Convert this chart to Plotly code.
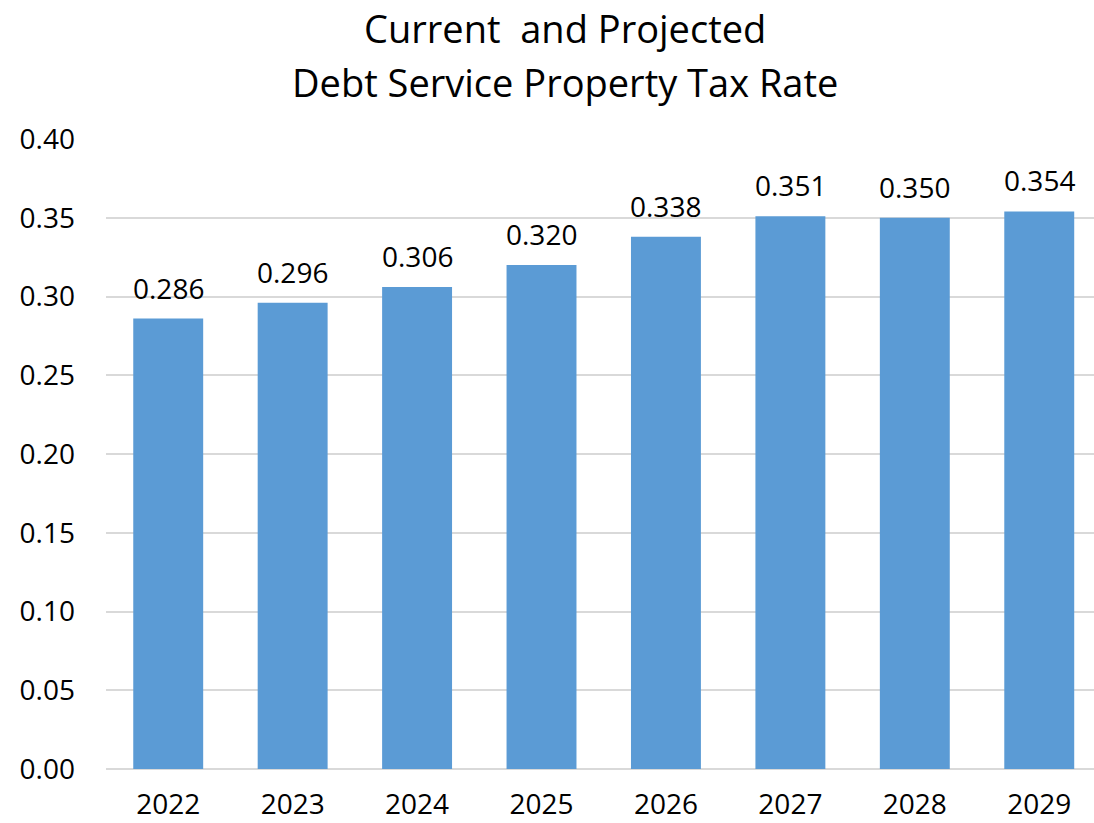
import plotly.graph_objects as go

years = ["2022", "2023", "2024", "2025", "2026", "2027", "2028", "2029"]
rates = [0.286, 0.296, 0.306, 0.320, 0.338, 0.351, 0.350, 0.354]
labels = [f"{v:.3f}" for v in rates]
y_ticks = [0.00, 0.05, 0.10, 0.15, 0.20, 0.25, 0.30, 0.35, 0.40]
title_lines = ["Current  and Projected", "Debt Service Property Tax Rate"]

FONT = "Open Sans"
W, H = 1094, 823
ML, MR, MT, MB = 106, 0, 139, 54
PW, PH = W - ML - MR, H - MT - MB

fig = go.Figure(
    go.Bar(
        x=years,
        y=rates,
        marker=dict(color="#5B9BD5", line=dict(width=0)),
        cliponaxis=False,
    )
)

for i, (yv, lab) in enumerate(zip(rates, labels)):
    fig.add_annotation(
        x=i, y=yv, text=lab, showarrow=False,
        xref="x", yref="y", yanchor="bottom", yshift=10,
        font=dict(family=FONT, size=28, color="black"),
    )

for i, line in enumerate(title_lines):
    ypx = 28 + 54 * i
    fig.add_annotation(
        x=(565 - ML) / PW, y=(H - MB - ypx) / PH,
        xref="paper", yref="paper", text=line, showarrow=False,
        xanchor="center", yanchor="middle",
        font=dict(family=FONT, size=38, color="black"),
    )

fig.update_layout(
    width=W,
    height=H,
    margin=dict(l=ML, r=MR, t=MT, b=MB, autoexpand=False),
    paper_bgcolor="white",
    plot_bgcolor="white",
    bargap=0.438,
    showlegend=False,
    font=dict(family=FONT, color="black"),
)

fig.update_xaxes(
    type="category",
    range=[-0.5, 7.44],
    automargin=False,
    showgrid=False,
    showline=False,
    ticks="",
    tickfont=dict(family=FONT, size=28, color="black"),
    ticklabelstandoff=16,
)

fig.update_yaxes(
    range=[0, 0.4],
    automargin=False,
    tickvals=y_ticks,
    ticktext=[f"{v:.2f}" for v in y_ticks],
    showgrid=True,
    gridcolor="#D9D9D9",
    gridwidth=2,
    zeroline=True,
    zerolinecolor="#D9D9D9",
    zerolinewidth=2,
    showline=False,
    ticks="",
    tickfont=dict(family=FONT, size=28, color="black"),
    ticklabelstandoff=30,
)

fig.write_html("out.html")
